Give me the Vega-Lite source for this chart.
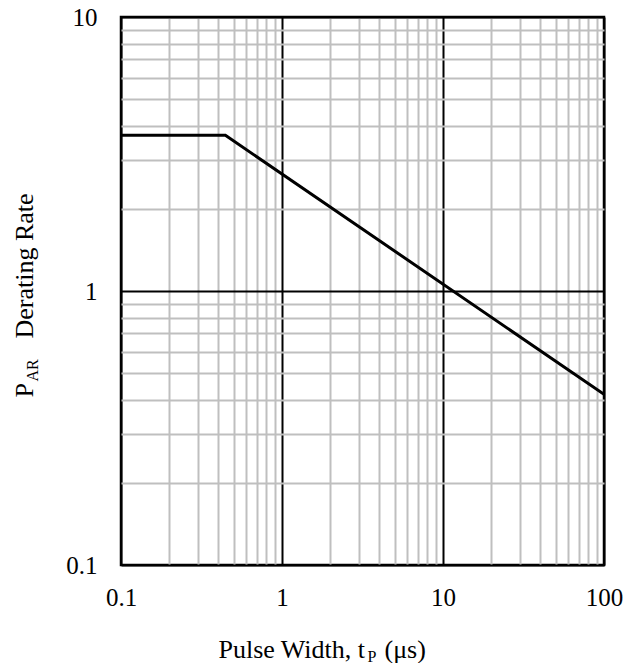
{
  "$schema": "https://vega.github.io/schema/vega-lite/v6.json",
  "autosize": "none",
  "width": 483,
  "height": 548,
  "padding": {"left": 121, "top": 17, "right": 36, "bottom": 98},
  "background": "white",
  "config": {
    "font": "Liberation Serif",
    "view": {"stroke": "black", "strokeWidth": 2.5},
    "axis": {"labelFont": "Liberation Serif", "titleFont": "Liberation Serif", "labelColor": "black", "titleColor": "black", "titleFontWeight": "normal"}
  },
  "data": {"values": [
    {"tp": 0.1, "rate": 3.7},
    {"tp": 0.445, "rate": 3.7},
    {"tp": 100, "rate": 0.42}
  ]},
  "resolve": {"axis": {"x": "independent", "y": "independent"}},
  "layer": [
    {
      "mark": {"type": "line", "color": "black", "strokeWidth": 3, "clip": true},
      "encoding": {
        "x": {"field": "tp", "type": "quantitative",
          "scale": {"type": "log", "domain": [0.1, 100], "nice": false},
          "axis": {"orient": "bottom", "values": [0.1,0.2,0.3,0.4,0.5,0.6,0.7,0.8,0.9,1,2,3,4,5,6,7,8,9,10,20,30,40,50,60,70,80,90,100],
            "labelExpr": "indexof([0.1,1,10,100], datum.value) >= 0 ? format(datum.value, '~g') : ''",
            "labelFontSize": 25, "labelPadding": 20, "labelFlush": false, "labelOverlap": false, "labelBound": false,
            "ticks": false, "domain": false, "grid": true,
            "gridColor": {"condition": {"test": "indexof([0.1,1,10,100], datum.value) >= 0", "value": "black"}, "value": "#bfbfbf"},
            "gridWidth": 2, "gridOpacity": 1,
            "title": "Pulse Width, t", "titleFontSize": 26, "titleX": 97, "titleY": 92, "titleAlign": "left", "titleBaseline": "alphabetic", "titleAngle": 0}},
        "y": {"field": "rate", "type": "quantitative",
          "scale": {"type": "log", "domain": [0.1, 10], "nice": false},
          "axis": {"orient": "left", "values": [0.1,0.2,0.3,0.4,0.5,0.6,0.7,0.8,0.9,1,2,3,4,5,6,7,8,9,10],
            "labelExpr": "indexof([0.1,1,10], datum.value) >= 0 ? format(datum.value, '~g') : ''",
            "labelFontSize": 25, "labelPadding": 24, "labelFlush": false, "labelOverlap": false, "labelBound": false,
            "ticks": false, "domain": false, "grid": true,
            "gridColor": {"condition": {"test": "indexof([0.1,1,10], datum.value) >= 0", "value": "black"}, "value": "#bfbfbf"},
            "gridWidth": 2, "gridOpacity": 1,
            "title": "P", "titleFontSize": 26, "titleX": -89, "titleY": 380, "titleAlign": "left", "titleBaseline": "alphabetic", "titleAngle": 270}}
      }
    },
    {
      "mark": {"type": "line", "strokeOpacity": 0},
      "encoding": {
        "x": {"field": "tp", "type": "quantitative",
          "axis": {"orient": "bottom", "grid": false, "labels": false, "ticks": false, "domain": false,
            "title": "P", "titleFontSize": 16, "titleX": 246, "titleY": 96, "titleAlign": "left", "titleBaseline": "alphabetic", "titleAngle": 0}},
        "y": {"field": "rate", "type": "quantitative",
          "axis": {"orient": "left", "grid": false, "labels": false, "ticks": false, "domain": false,
            "title": "AR", "titleFontSize": 16, "titleX": -84, "titleY": 364, "titleAlign": "left", "titleBaseline": "alphabetic", "titleAngle": 270}}
      }
    },
    {
      "mark": {"type": "line", "strokeOpacity": 0},
      "encoding": {
        "x": {"field": "tp", "type": "quantitative",
          "axis": {"orient": "bottom", "grid": false, "labels": false, "ticks": false, "domain": false,
            "title": "(μs)", "titleFontSize": 26, "titleX": 263, "titleY": 92, "titleAlign": "left", "titleBaseline": "alphabetic", "titleAngle": 0}},
        "y": {"field": "rate", "type": "quantitative",
          "axis": {"orient": "left", "grid": false, "labels": false, "ticks": false, "domain": false,
            "title": "Derating Rate", "titleFontSize": 26, "titleX": -89, "titleY": 321, "titleAlign": "left", "titleBaseline": "alphabetic", "titleAngle": 270}}
      }
    }
  ]
}
